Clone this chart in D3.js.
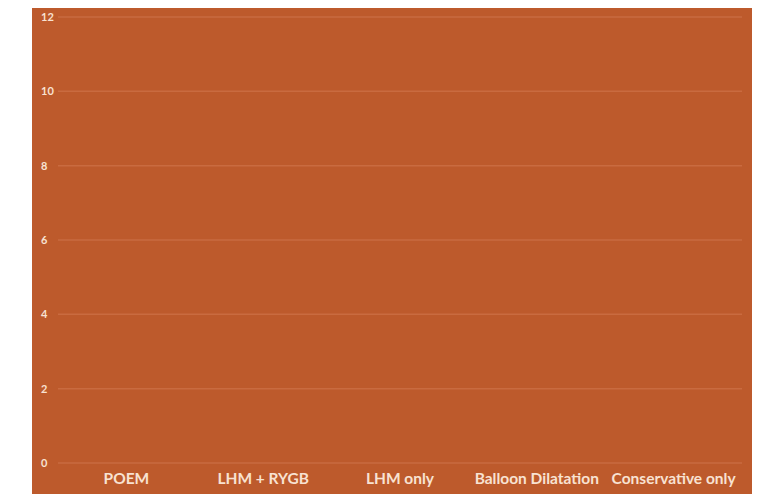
<!DOCTYPE html>
<html><head><meta charset="utf-8">
<script src="https://cdn.jsdelivr.net/npm/d3@7"></script>
<style>html,body{margin:0;padding:0;background:#fff;}svg{display:block;}</style>
</head><body>
<svg id="chart" width="766" height="494"></svg>
<script>
const categories = ["POEM", "LHM + RYGB", "LHM only", "Balloon Dilatation", "Conservative only"];
const values = [0, 0, 0, 0, 0];
const yTicks = [0, 2, 4, 6, 8, 10, 12];

const svg = d3.select("#chart");
const W = 766, H = 494;
const bg = "#BD5A2C", grid = "#C96B40", txt = "#F8E2D2";

svg.append("rect").attr("x", 32).attr("y", 8).attr("width", 720).attr("height", H - 8).attr("fill", bg);

const x = d3.scaleBand().domain(categories).range([58, 742]).paddingInner(0.3).paddingOuter(0.15);
const y = d3.scaleLinear().domain([0, 12]).range([463, 17]);

// gridlines
svg.append("g").selectAll("line").data(yTicks).join("line")
  .attr("x1", 58).attr("x2", 742)
  .attr("y1", d => y(d)).attr("y2", d => y(d))
  .attr("stroke", grid).attr("stroke-width", 1.5);

// y tick labels
svg.append("g").selectAll("text").data(yTicks).join("text")
  .attr("x", 41).attr("y", d => y(d)).attr("dy", "0.35em")
  .attr("fill", txt).attr("font-family", "Lato, 'Open Sans', sans-serif")
  .attr("font-weight", "bold").attr("font-size", 11)
  .text(d => d);

// bars (all zero)
svg.append("g").selectAll("rect").data(values).join("rect")
  .attr("x", (d, i) => x(categories[i])).attr("width", x.bandwidth())
  .attr("y", d => y(d)).attr("height", d => y(0) - y(d))
  .attr("fill", "#E07A45");

// category labels
const xb = d3.scaleBand().domain(categories).range([58, 742]);
svg.append("g").selectAll("text").data(categories).join("text")
  .attr("x", d => xb(d) + xb.bandwidth() / 2).attr("y", 484)
  .attr("text-anchor", "middle")
  .attr("fill", txt).attr("font-family", "Lato, 'Open Sans', sans-serif")
  .attr("font-weight", "bold").attr("font-size", 15.5)
  .text(d => d);
</script>
</body></html>
